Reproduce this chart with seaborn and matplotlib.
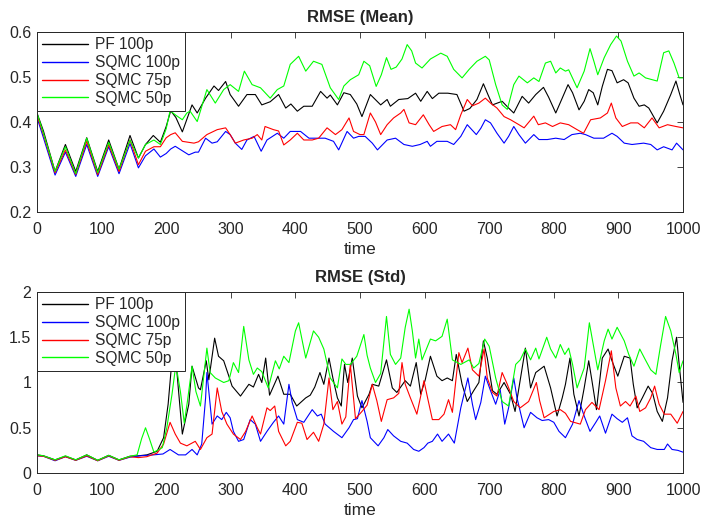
import matplotlib
matplotlib.use("Agg")
import matplotlib.pyplot as plt
import seaborn as sns
import pandas as pd

# ---------------- data: (time, value) key points ----------------
series_names = ["PF 100p", "SQMC 100p", "SQMC 75p", "SQMC 50p"]
series_colors = ["#000000", "#0000ff", "#ff0000", "#00ff00"]
x_ticks = [0, 100, 200, 300, 400, 500, 600, 700, 800, 900, 1000]
mean_y_ticks = [0.2, 0.3, 0.4, 0.5, 0.6]
std_y_ticks = [0, 0.5, 1, 1.5, 2]

mean_pf = [(0,0.42),(10,0.38),(28,0.29),(44,0.35),(60,0.29),(77,0.365),(94,0.29),(111,0.36),(127,0.295),
    (144,0.37),(157,0.32),(168,0.35),(180,0.37),(191,0.355),(200,0.39),(207,0.425),(215,0.41),(225,0.378),
    (240,0.438),(248,0.42),(261,0.453),(274,0.48),(281,0.47),(292,0.49),(299,0.461),(312,0.435),(325,0.461),
    (338,0.461),(348,0.438),(361,0.445),(374,0.461),(385,0.431),(393,0.44),(403,0.424),(413,0.435),(426,0.435),
    (439,0.468),(449,0.453),(454,0.46),(465,0.438),(475,0.465),(485,0.461),(495,0.44),(503,0.412),(516,0.461),
    (532,0.438),(542,0.45),(547,0.435),(560,0.45),(574,0.452),(586,0.464),(594,0.446),(604,0.468),(612,0.452),
    (622,0.464),(636,0.464),(650,0.461),(661,0.424),(670,0.43),(681,0.45),(691,0.485),(698,0.461),(705,0.438),
    (720,0.446),(730,0.431),(738,0.42),(751,0.457),(761,0.442),(772,0.461),(784,0.477),(792,0.455),(803,0.42),
    (813,0.453),(822,0.483),(829,0.465),(839,0.427),(847,0.446),(854,0.472),(861,0.465),(868,0.438),(875,0.479),
    (883,0.517),(890,0.514),(898,0.487),(908,0.494),(915,0.487),(924,0.453),(932,0.435),(940,0.438),(947,0.431),
    (960,0.398),(970,0.424),(981,0.461),(989,0.491),(995,0.461),(1000,0.438)]

mean_sqmc100 = [(0,0.41),(10,0.365),(28,0.282),(44,0.333),(60,0.279),(77,0.35),(94,0.279),(111,0.345),(127,0.285),
    (144,0.352),(157,0.298),(168,0.325),(181,0.34),(191,0.322),(200,0.33),(207,0.34),(214,0.346),(235,0.327),
    (245,0.333),(250,0.333),(261,0.364),(271,0.353),(279,0.356),(292,0.379),(299,0.372),(307,0.353),(317,0.339),
    (325,0.36),(336,0.368),(347,0.335),(356,0.36),(372,0.375),(382,0.364),(392,0.379),(408,0.379),(421,0.364),
    (434,0.364),(446,0.364),(459,0.357),(467,0.338),(480,0.379),(490,0.364),(498,0.368),(508,0.368),(519,0.353),
    (527,0.338),(542,0.36),(555,0.364),(568,0.35),(581,0.346),(593,0.35),(604,0.357),(609,0.346),(619,0.357),
    (635,0.357),(645,0.35),(656,0.368),(666,0.394),(673,0.383),(680,0.372),(687,0.386),(694,0.405),(702,0.398),
    (712,0.375),(723,0.353),(730,0.368),(738,0.39),(746,0.372),(756,0.353),(769,0.372),(777,0.361),(790,0.361),
    (803,0.364),(816,0.361),(828,0.372),(841,0.375),(849,0.372),(862,0.364),(877,0.364),(890,0.375),(898,0.368),
    (909,0.353),(921,0.35),(939,0.353),(950,0.35),(960,0.338),(970,0.345),(983,0.338),(990,0.353),(1000,0.338)]

mean_sqmc75 = [(0,0.415),(10,0.372),(28,0.287),(44,0.338),(60,0.283),(77,0.357),(94,0.283),(111,0.35),(127,0.29),
    (144,0.36),(157,0.305),(168,0.335),(181,0.345),(191,0.345),(200,0.365),(207,0.372),(214,0.376),(225,0.357),
    (243,0.353),(250,0.356),(263,0.372),(279,0.383),(292,0.387),(299,0.372),(307,0.353),(320,0.36),(333,0.364),
    (341,0.372),(348,0.36),(353,0.39),(366,0.383),(374,0.38),(382,0.349),(392,0.36),(403,0.375),(413,0.36),
    (426,0.36),(436,0.364),(449,0.387),(462,0.372),(472,0.383),(483,0.409),(490,0.379),(500,0.372),(506,0.372),
    (516,0.42),(524,0.40),(532,0.372),(542,0.394),(552,0.409),(563,0.42),(568,0.428),(576,0.398),(586,0.394),
    (598,0.416),(607,0.394),(614,0.379),(627,0.39),(640,0.394),(648,0.383),(656,0.416),(666,0.45),(674,0.436),
    (684,0.442),(694,0.453),(702,0.442),(712,0.431),(723,0.412),(733,0.405),(746,0.394),(754,0.387),(769,0.413),
    (776,0.394),(787,0.398),(798,0.39),(810,0.398),(823,0.394),(836,0.383),(846,0.375),(857,0.405),(872,0.409),
    (883,0.42),(889,0.442),(896,0.409),(906,0.39),(919,0.398),(930,0.398),(940,0.387),(952,0.409),(963,0.387),
    (976,0.394),(989,0.39),(1000,0.387)]

mean_sqmc50 = [(0,0.42),(10,0.375),(28,0.29),(44,0.345),(60,0.285),(77,0.364),(94,0.287),(111,0.355),(127,0.295),
    (144,0.36),(157,0.32),(168,0.35),(181,0.36),(191,0.35),(200,0.385),(206,0.425),(215,0.415),(225,0.405),
    (232,0.42),(237,0.424),(248,0.401),(263,0.472),(276,0.442),(289,0.472),(299,0.483),(312,0.468),(321,0.513),
    (333,0.483),(346,0.476),(361,0.453),(372,0.472),(382,0.48),(392,0.528),(405,0.546),(416,0.513),(428,0.535),
    (441,0.528),(454,0.476),(467,0.45),(475,0.48),(485,0.494),(498,0.505),(506,0.535),(515,0.525),(525,0.479),
    (533,0.505),(541,0.543),(548,0.517),(556,0.522),(565,0.54),(573,0.572),(580,0.558),(586,0.531),(596,0.52),
    (609,0.54),(625,0.553),(635,0.546),(645,0.517),(658,0.498),(669,0.517),(681,0.535),(694,0.546),(700,0.538),
    (710,0.483),(720,0.438),(728,0.428),(738,0.483),(746,0.502),(759,0.487),(769,0.498),(777,0.49),(787,0.531),
    (795,0.535),(803,0.509),(810,0.52),(818,0.513),(823,0.516),(836,0.476),(847,0.513),(856,0.563),(862,0.535),
    (868,0.505),(878,0.543),(888,0.572),(897,0.591),(904,0.58),(914,0.535),(924,0.502),(932,0.509),(942,0.498),
    (960,0.491),(970,0.554),(978,0.558),(986,0.531),(994,0.498),(1000,0.498)]

std_pf = [(0,0.2),(10,0.19),(28,0.145),(44,0.185),(60,0.145),(77,0.2),(94,0.14),(111,0.195),(127,0.145),
    (144,0.185),(157,0.19),(170,0.2),(186,0.24),(196,0.39),(203,0.76),(212,1.5),(218,1.0),(225,0.43),(235,0.76),
    (240,1.18),(250,0.94),(253,0.92),(262,1.24),(266,1.03),(275,1.49),(281,1.29),(289,1.24),(297,1.07),(302,0.96),
    (315,0.85),(328,0.98),(335,0.95),(343,1.09),(348,1.0),(354,1.27),(360,0.86),(373,1.07),(382,0.87),(392,0.87),
    (402,0.74),(416,0.83),(423,0.86),(430,0.95),(438,1.11),(444,0.98),(452,1.27),(458,1.05),(465,0.83),(471,0.74),
    (476,1.2),(481,1.0),(488,1.27),(496,0.85),(503,0.72),(514,0.87),(519,0.98),(529,0.96),(541,1.25),(550,0.94),
    (557,0.89),(570,1.02),(578,0.96),(587,1.22),(594,0.87),(601,1.03),(609,1.29),(619,1.07),(627,1.02),(635,1.05),
    (643,1.02),(649,1.31),(658,0.98),(666,0.79),(676,0.91),(684,1.0),(691,1.46),(697,1.27),(705,0.91),(712,0.87),
    (723,1.0),(733,0.87),(740,0.68),(746,0.94),(756,1.38),(764,0.94),(772,1.11),(785,1.18),(795,0.94),(805,0.63),
    (813,0.83),(818,0.98),(825,1.27),(831,0.87),(839,0.63),(847,0.94),(854,1.24),(859,1.02),(866,0.70),(875,1.27),
    (884,1.37),(890,1.24),(899,1.07),(909,1.29),(918,1.27),(923,0.98),(929,0.72),(937,0.83),(946,0.96),(953,0.88),
    (960,0.68),(968,0.57),(976,0.83),(983,1.24),(990,1.50),(994,1.20),(1000,0.78)]

std_sqmc100 = [(0,0.19),(10,0.185),(28,0.135),(44,0.18),(60,0.14),(77,0.185),(94,0.135),(111,0.185),(127,0.14),
    (144,0.175),(160,0.19),(180,0.2),(195,0.21),(206,0.26),(219,0.2),(230,0.2),(240,0.26),(248,0.2),(255,0.32),
    (261,0.83),(263,1.11),(267,0.83),(271,0.54),(279,0.63),(286,0.59),(293,0.67),(299,0.61),(304,0.46),(312,0.35),
    (320,0.37),(330,0.59),(338,0.54),(346,0.35),(356,0.46),(366,0.56),(374,0.63),(382,0.54),(390,0.98),(395,0.78),
    (403,0.59),(413,0.56),(426,0.70),(434,0.63),(440,0.65),(446,0.54),(459,0.46),(472,0.39),(483,0.50),(490,0.59),
    (496,0.6),(503,0.80),(511,0.57),(516,0.39),(528,0.30),(537,0.39),(543,0.48),(552,0.41),(563,0.35),(573,0.33),
    (583,0.26),(591,0.24),(599,0.28),(605,0.33),(612,0.35),(620,0.43),(627,0.35),(637,0.43),(646,0.33),(656,0.72),
    (667,1.05),(674,0.76),(679,0.59),(687,0.78),(694,1.07),(702,0.91),(710,0.76),(717,0.92),(724,0.54),(730,0.72),
    (738,1.05),(743,0.83),(754,0.50),(764,0.67),(774,0.61),(782,0.58),(792,0.59),(800,0.56),(808,0.46),(818,0.39),
    (829,0.54),(839,0.80),(847,0.63),(856,0.46),(865,0.56),(871,0.63),(880,0.44),(890,0.65),(898,0.6),(906,0.56),
    (914,0.61),(921,0.41),(929,0.37),(939,0.35),(950,0.28),(960,0.26),(971,0.26),(976,0.32),(983,0.26),(992,0.25),
    (1000,0.23)]

std_sqmc75 = [(0,0.19),(10,0.185),(28,0.14),(44,0.18),(60,0.14),(77,0.19),(94,0.135),(111,0.19),(127,0.14),
    (144,0.18),(157,0.17),(170,0.18),(186,0.22),(196,0.32),(206,0.56),(214,0.43),(222,0.33),(232,0.30),(245,0.35),
    (253,0.26),(263,0.39),(271,0.43),(279,0.94),(286,0.68),(294,0.54),(304,0.43),(315,0.37),(323,0.46),(333,0.63),
    (341,0.50),(346,0.43),(356,0.72),(361,0.69),(368,0.74),(374,0.46),(385,0.30),(392,0.35),(403,0.56),(410,0.55),
    (418,0.37),(428,0.45),(436,0.35),(444,0.54),(452,1.05),(458,0.70),(465,0.79),(472,0.54),(478,0.62),(485,1.20),
    (493,0.60),(503,0.68),(511,0.75),(519,0.98),(526,0.80),(533,0.57),(542,0.81),(552,0.83),(560,0.88),(565,1.22),
    (570,0.98),(578,0.83),(588,0.65),(599,1.02),(604,0.85),(612,0.59),(622,0.59),(630,0.65),(637,0.81),(643,0.67),
    (653,1.33),(658,1.22),(667,1.38),(674,1.14),(684,1.07),(692,1.37),(697,1.05),(705,0.89),(712,0.85),(720,1.11),
    (728,0.98),(738,0.79),(748,0.72),(761,0.79),(773,1.0),(778,0.8),(785,0.61),(800,0.68),(810,0.70),(818,0.66),
    (826,0.57),(841,0.54),(849,0.70),(859,0.78),(870,0.70),(880,1.02),(889,1.35),(896,0.94),(903,0.74),(911,0.79),
    (918,0.74),(927,0.85),(933,0.68),(942,0.72),(950,0.83),(956,0.96),(963,0.76),(971,0.65),(981,0.65),(991,0.55),
    (1000,0.68)]

std_sqmc50 = [(0,0.2),(10,0.19),(28,0.145),(44,0.19),(60,0.145),(77,0.2),(94,0.14),(111,0.195),(127,0.145),
    (144,0.185),(155,0.2),(162,0.38),(168,0.5),(174,0.38),(181,0.23),(194,0.28),(201,0.5),(209,0.87),(215,1.2),
    (222,0.9),(228,0.55),(233,0.8),(240,1.18),(246,0.9),(253,0.74),(263,1.38),(268,1.11),(276,1.05),(289,1.0),
    (297,1.02),(304,1.22),(312,1.11),(320,1.62),(328,1.25),(335,1.09),(341,1.16),(348,1.12),(358,0.94),(369,1.24),
    (375,1.15),(382,1.29),(390,1.22),(400,1.57),(405,1.66),(416,1.27),(428,1.57),(436,1.5),(444,1.37),(454,1.05),
    (465,0.94),(472,1.26),(478,1.2),(485,1.2),(495,1.29),(506,1.53),(511,1.3),(516,1.16),(524,1.0),(532,1.1),
    (541,1.73),(547,1.31),(555,1.2),(563,1.27),(570,1.61),(576,1.81),(581,1.57),(586,1.27),(591,1.48),(596,1.25),
    (609,1.48),(617,1.46),(627,1.51),(635,1.70),(643,1.25),(656,1.2),(669,1.25),(676,1.16),(684,1.21),(693,1.48),
    (700,1.40),(710,1.05),(720,0.79),(730,0.74),(741,1.2),(748,1.25),(756,1.37),(764,1.25),(772,1.38),(777,1.26),
    (789,1.50),(795,1.37),(803,1.27),(810,1.42),(817,1.31),(823,1.38),(829,1.20),(836,0.94),(847,1.16),(855,1.66),
    (862,1.38),(868,1.14),(878,1.46),(884,1.59),(890,1.48),(898,1.61),(909,1.46),(916,1.31),(924,1.18),(933,1.37),
    (941,1.26),(950,1.14),(958,1.09),(965,1.40),(973,1.73),(981,1.57),(989,1.31),(994,1.11),(1000,1.24)]


def to_frame(series_list):
    rows = []
    for name, pts in zip(series_names, series_list):
        for t, v in pts:
            rows.append({"time": t, "value": v, "series": name})
    return pd.DataFrame(rows)


df_mean = to_frame([mean_pf, mean_sqmc100, mean_sqmc75, mean_sqmc50])
df_std = to_frame([std_pf, std_sqmc100, std_sqmc75, std_sqmc50])

# ---------------- style ----------------
sns.set_style("white")
plt.rcParams["font.family"] = ["Liberation Sans", "DejaVu Sans"]
plt.rcParams["xtick.direction"] = "in"
plt.rcParams["ytick.direction"] = "in"

axis_gray = "#262626"
fig = plt.figure(figsize=(7.03, 5.22), dpi=100)
ax1 = fig.add_axes([0.0526, 0.5939, 0.9190, 0.3448])
ax2 = fig.add_axes([0.0526, 0.0939, 0.9190, 0.3467])

palette = dict(zip(series_names, series_colors))

for ax, df, title, yticks, ylim in [
    (ax1, df_mean, "RMSE (Mean)", mean_y_ticks, (0.2, 0.6)),
    (ax2, df_std, "RMSE (Std)", std_y_ticks, (0, 2)),
]:
    sns.lineplot(data=df, x="time", y="value", hue="series", hue_order=series_names,
                 palette=palette, estimator=None, sort=False, linewidth=0.8, ax=ax)
    ax.set_xlim(0, 1000)
    ax.set_ylim(*ylim)
    ax.set_xticks(x_ticks)
    ax.set_yticks(yticks)
    ax.set_yticklabels([f"{y:g}" for y in yticks])
    ax.tick_params(axis="both", labelsize=11.5, colors=axis_gray, length=4, width=0.6,
                   top=True, right=True)
    ax.tick_params(axis="x", pad=7.5)
    ax.tick_params(axis="y", pad=4)
    for s in ax.spines.values():
        s.set_color(axis_gray)
        s.set_linewidth(0.7)
    ax.set_title(title, fontsize=12, fontweight="bold", pad=7)
    ax.set_xlabel("time", fontsize=12.5, color=axis_gray, labelpad=3)
    ax.set_ylabel("")
    leg = ax.legend(loc="upper left", borderaxespad=0, fancybox=False, framealpha=1,
                    edgecolor=axis_gray, fontsize=11.2, handlelength=2.9, handletextpad=0.45,
                    borderpad=0.35, labelspacing=0.18)
    leg.get_frame().set_linewidth(0.7)
    for line in leg.get_lines():
        line.set_linewidth(1.0)

fig.savefig("out.png", dpi=100)
